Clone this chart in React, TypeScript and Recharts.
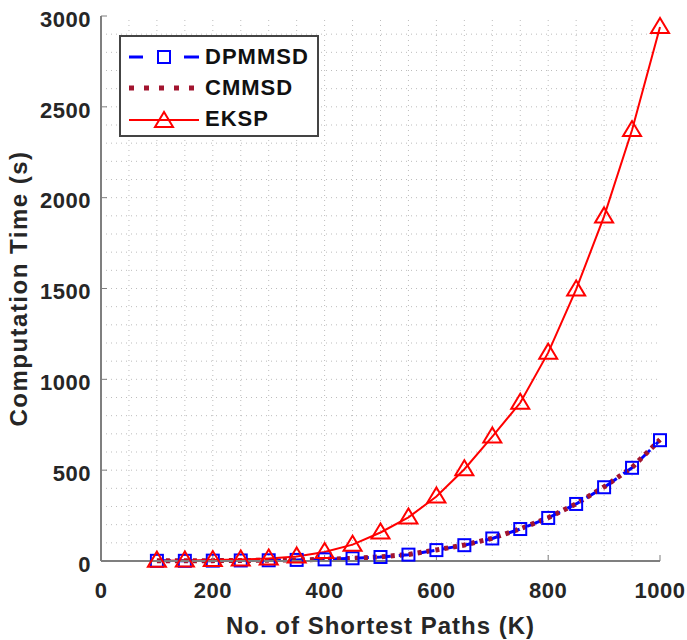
import React from "react";
import { LineChart, Line, XAxis, YAxis, Legend, Label, ReferenceLine } from "recharts";

// shortest path counts (K) and computation times (s)
const K = [100, 150, 200, 250, 300, 350, 400, 450, 500, 550, 600, 650, 700, 750, 800, 850, 900, 950, 1000];
const DPMMSD = [1, 1, 2, 3, 4, 6, 9, 15, 22, 35, 60, 87, 124, 176, 237, 314, 406, 513, 665];
const CMMSD = [1, 1, 2, 3, 4, 6, 9, 15, 23, 36, 61, 88, 125, 177, 238, 315, 408, 515, 668];
const EKSP = [2, 3, 5, 8, 14, 25, 50, 90, 157, 240, 355, 505, 685, 871, 1147, 1495, 1897, 2372, 2940];

const X_TICKS = [0, 200, 400, 600, 800, 1000];
const Y_TICKS = [0, 500, 1000, 1500, 2000, 2500, 3000];
const GRID_X = Array.from({ length: 19 }, (_, i) => (i + 1) * 50);
const GRID_Y = Array.from({ length: 29 }, (_, i) => (i + 1) * 100);

const data = K.map((k, i) => ({ k, dp: DPMMSD[i], cm: CMMSD[i], ek: EKSP[i] }));

const FONT = "'Liberation Sans', Arial, sans-serif";
const TEXT = "#262626";
const FRAME = "#7f7f7f";
const GRID = "#bdbdbd";
const BLUE = "#0000FF";
const MAROON = "#A2142F";
const RED = "#FF0000";

const tickStyle = { fontSize: 22, fontWeight: 700, fill: TEXT, fontFamily: FONT, letterSpacing: 0.5 };

function Square(p: any) {
  if (p.cx == null || p.cy == null) return null;
  return <rect x={p.cx - 6} y={p.cy - 6} width={12} height={12} fill="none" stroke={BLUE} strokeWidth={2} />;
}

function Triangle(p: any) {
  if (p.cx == null || p.cy == null) return null;
  const { cx, cy } = p;
  return (
    <polygon
      points={`${cx},${cy - 9} ${cx - 9},${cy + 6} ${cx + 9},${cy + 6}`}
      fill="none"
      stroke={RED}
      strokeWidth={2}
    />
  );
}

function LegendBox() {
  const row = (label: string, line: React.ReactNode) => (
    <div style={{ display: "flex", alignItems: "center", height: 31 }}>
      <svg width={78} height={20} style={{ marginLeft: 6 }}>
        {line}
      </svg>
      <span style={{ fontFamily: FONT, fontWeight: 700, fontSize: 22, color: "#111", letterSpacing: 1 }}>
        {label}
      </span>
    </div>
  );
  return (
    <div
      style={{
        width: 200,
        height: 102,
        boxSizing: "border-box",
        border: "2px solid #444",
        background: "#fff",
        paddingTop: 4,
      }}
    >
      {row(
        "DPMMSD",
        <>
          <line x1={2} y1={10} x2={16} y2={10} stroke={BLUE} strokeWidth={3} />
          <line x1={57} y1={10} x2={72} y2={10} stroke={BLUE} strokeWidth={3} />
          <rect x={31} y={4} width={12} height={12} fill="none" stroke={BLUE} strokeWidth={2} />
        </>
      )}
      {row("CMMSD", <line x1={2} y1={10} x2={72} y2={10} stroke={MAROON} strokeWidth={5} strokeDasharray="5 10" />)}
      {row(
        "EKSP",
        <>
          <line x1={2} y1={11} x2={72} y2={11} stroke={RED} strokeWidth={2} />
          <polygon points="37,3 28,18 46,18" fill="none" stroke={RED} strokeWidth={2} />
        </>
      )}
    </div>
  );
}

export default function App() {
  return (
    <div style={{ position: "absolute", left: 0, top: 0, background: "#fff" }}>
      <LineChart width={687} height={640} data={data} margin={{ top: 16, right: 27, bottom: 0, left: 0 }}>
        {GRID_X.map((v) => (
          <ReferenceLine key={"gx" + v} x={v} stroke={GRID} strokeDasharray="1 4" />
        ))}
        {GRID_Y.map((v) => (
          <ReferenceLine key={"gy" + v} y={v} stroke={GRID} strokeDasharray="1 4" />
        ))}
        <XAxis
          dataKey="k"
          type="number"
          domain={[0, 1000]}
          ticks={X_TICKS}
          height={79}
          tickSize={-6}
          tickMargin={27}
          tick={tickStyle}
          axisLine={{ stroke: FRAME, strokeWidth: 2 }}
          tickLine={{ stroke: FRAME }}
        >
          <Label
            value="No. of Shortest Paths (K)"
            position="insideBottom"
            offset={6}
            style={{ fontSize: 24, fontWeight: 700, fill: TEXT, fontFamily: FONT, letterSpacing: 1 }}
          />
        </XAxis>
        <XAxis
          xAxisId="top"
          orientation="top"
          dataKey="k"
          type="number"
          domain={[0, 1000]}
          ticks={X_TICKS}
          height={0}
          tickSize={-6}
          tickFormatter={() => ""}
          axisLine={{ stroke: FRAME, strokeWidth: 2 }}
          tickLine={{ stroke: FRAME }}
        />
        <YAxis
          type="number"
          domain={[0, 3000]}
          ticks={Y_TICKS}
          width={101}
          tickSize={-6}
          tickMargin={16}
          tick={{ ...tickStyle, dy: 3 }}
          axisLine={{ stroke: FRAME, strokeWidth: 2 }}
          tickLine={{ stroke: FRAME }}
        >
          <Label
            content={({ viewBox }: any) => {
              const cx = viewBox.x + 18;
              const cy = viewBox.y + viewBox.height / 2;
              return (
                <text
                  x={cx}
                  y={cy}
                  transform={`rotate(-90, ${cx}, ${cy})`}
                  textAnchor="middle"
                  dominantBaseline="central"
                  style={{ fontSize: 24, fontWeight: 700, fill: TEXT, fontFamily: FONT, letterSpacing: 1.5 }}
                >
                  Computation Time (s)
                </text>
              );
            }}
          />
        </YAxis>
        <YAxis
          yAxisId="right"
          orientation="right"
          type="number"
          domain={[0, 3000]}
          ticks={Y_TICKS}
          width={0}
          tickSize={-6}
          tickFormatter={() => ""}
          axisLine={{ stroke: FRAME, strokeWidth: 2 }}
          tickLine={{ stroke: FRAME }}
        />
        <Legend
          layout="horizontal"
          verticalAlign="middle"
          content={() => <LegendBox />}
          wrapperStyle={{ left: 119, top: 35, width: 200, height: 102 }}
        />
        <Line
          dataKey="dp"
          name="DPMMSD"
          stroke={BLUE}
          strokeWidth={3}
          strokeDasharray="14 8"
          dot={Square}
          isAnimationActive={false}
        />
        <Line
          dataKey="cm"
          name="CMMSD"
          stroke={MAROON}
          strokeWidth={5}
          strokeDasharray="4 5"
          dot={false}
          isAnimationActive={false}
        />
        <Line dataKey="ek" name="EKSP" stroke={RED} strokeWidth={2} dot={Triangle} isAnimationActive={false} />
      </LineChart>
    </div>
  );
}
